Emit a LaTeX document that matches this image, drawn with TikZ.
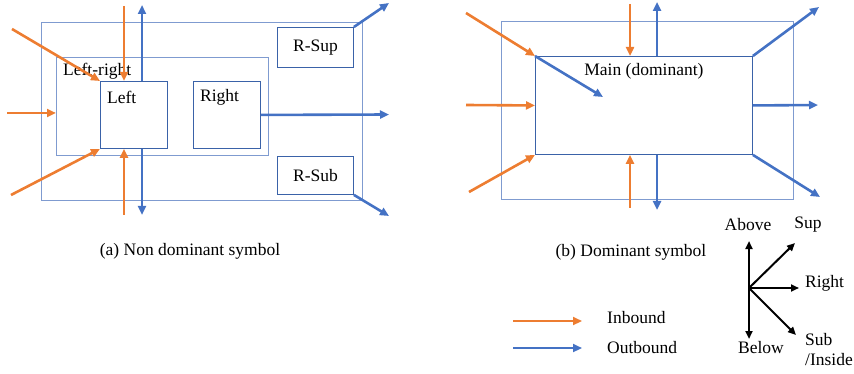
\documentclass[tikz,border=0pt]{standalone}
\usepackage{fontspec}
\setmainfont{Liberation Serif}
\usetikzlibrary{arrows.meta,positioning}
\definecolor{inorange}{HTML}{ED7D31}
\definecolor{outblue}{HTML}{4472C4}
\definecolor{framecol}{HTML}{7F9BD0}
\definecolor{boxcol}{HTML}{3A62A8}
\tikzset{
  frame/.style={draw=framecol,line width=.9pt,inner sep=0pt,anchor=north west},
  sbox/.style={draw=boxcol,line width=.9pt,inner sep=0pt,anchor=north west},
  inarrow/.style={inorange,line width=2.6pt,-{Triangle[length=9pt,width=8pt]}},
  outarrow/.style={outblue,line width=2.6pt,-{Triangle[length=9pt,width=8pt]}},
  dirarrow/.style={black,line width=2pt,-{Triangle[length=8pt,width=7pt]}},
  txt/.style={inner sep=0pt,font=\fontsize{17.5pt}{20pt}\selectfont}
}
\begin{document}
\begin{tikzpicture}[x=1pt,y=-1pt]
\useasboundingbox (0,0) rectangle (854,374);
% (a) non dominant
\node[frame,minimum width=321pt,minimum height=178pt] (outerA) at (41,22) {};
\node[frame,minimum width=212pt,minimum height=98pt] (lr) at (56,57) {};
\node[sbox,minimum width=67pt,minimum height=67pt] (left) at (100,81) {};
\node[sbox,minimum width=67pt,minimum height=67pt] (right) at (193,81) {};
\node[sbox,minimum width=76pt,minimum height=40pt] (rsup) at (277,27) {};
\node[sbox,minimum width=76pt,minimum height=38pt] (rsub) at (277,156) {};
\node[txt,anchor=west] (lrtext) at ([xshift=7pt,yshift=-14pt]lr.north west) {Left-right};
\node[txt,anchor=west] (lefttext) at ([xshift=7pt,yshift=-16pt]left.north west) {Left};
\node[txt,anchor=west] (righttext) at ([xshift=7pt,yshift=-16pt]right.north west) {Right};
\node[txt] (rsuptext) at (rsup) {R-Sup};
\node[txt] (rsubtext) at (rsub) {R-Sub};
\coordinate (aNW) at (12,29);
\coordinate (aTop) at (124,6);
\coordinate (aW) at (7,113);
\coordinate (aSW) at (11,195);
\coordinate (aBot) at (124,215);
\coordinate (aUp) at (142,5);
\coordinate (aDown) at (142,215);
\coordinate (aRight) at (389,114.5);
\coordinate (aSup) at (389,3);
\coordinate (aSub) at (389,216);
\draw[inarrow] (aNW) -- (left.north west);
\draw[inarrow] (aTop) -- (aTop |- left.north);
\draw[inarrow] (aW) -- (aW -| lr.west);
\draw[inarrow] (aSW) -- (left.south west);
\draw[inarrow] (aBot) -- (aBot |- left.south);
\draw[outarrow] (aUp |- left.north) -- (aUp);
\draw[outarrow] (aDown |- left.south) -- (aDown);
\draw[outarrow] (right.east) -- (aRight);
\draw[outarrow] (rsup.north east) -- (aSup);
\draw[outarrow] (rsub.south east) -- (aSub);
\node[txt] (capA) at (190,251) {(a) Non dominant symbol};
% (b) dominant
\node[frame,minimum width=292pt,minimum height=178pt] (outerB) at (501,21) {};
\node[sbox,minimum width=217pt,minimum height=98pt] (main) at (535,56) {};
\node[txt,below=7pt of main.north] (maintext) {Main (dominant)};
\coordinate (bNW) at (466,13);
\coordinate (bTop) at (630,4);
\coordinate (bW) at (466,105);
\coordinate (bSW) at (469,192);
\coordinate (bBot) at (630,208);
\coordinate (bUp) at (657,2);
\coordinate (bDown) at (657,210);
\coordinate (bIn) at (603,97);
\coordinate (bSup) at (819,7);
\coordinate (bRight) at (818,105);
\coordinate (bSub) at (820,197);
\draw[inarrow] (bNW) -- (main.north west);
\draw[inarrow] (bTop) -- (bTop |- main.north);
\draw[inarrow] (bW) -- (main.west);
\draw[inarrow] (bSW) -- (main.south west);
\draw[inarrow] (bBot) -- (bBot |- main.south);
\draw[outarrow] (bUp |- main.north) -- (bUp);
\draw[outarrow] (bDown |- main.south) -- (bDown);
\draw[outarrow] (main.north west) -- (bIn);
\draw[outarrow] (main.north east) -- (bSup);
\draw[outarrow] (main.east) -- (bRight);
\draw[outarrow] (main.south east) -- (bSub);
\node[txt] (capB) at (631,252) {(b) Dominant symbol};
% legend
\coordinate (inS) at (513,321);
\coordinate (inE) at (582,321);
\coordinate (outS) at (513,348);
\coordinate (outE) at (582,348);
\draw[inarrow] (inS) -- (inE);
\draw[outarrow] (outS) -- (outE);
\node[txt,anchor=west] (inbound) at (607,318) {Inbound};
\node[txt,anchor=west] (outbound) at (607,348) {Outbound};
\coordinate (o) at (749,288);
\coordinate (cUp) at (749,241);
\coordinate (cDown) at (749,339);
\coordinate (cSup) at (795,243);
\coordinate (cRight) at (799,288);
\coordinate (cSub) at (796,335);
\draw[dirarrow,{Triangle[length=8pt,width=7pt]}-{Triangle[length=8pt,width=7pt]}] (cDown) -- (cUp);
\draw[dirarrow] (o) -- (cSup);
\draw[dirarrow] (o) -- (cRight);
\draw[dirarrow] (o) -- (cSub);
\node[txt] (above) at (748,225) {Above};
\node[txt] (sup) at (808,225) {Sup};
\node[txt,anchor=west] (righttxt) at (805,283) {Right};
\node[txt] (below) at (761,348) {Below};
\node[txt,anchor=north west,align=left] (sub) at (805,333) {Sub\\/Inside};
\end{tikzpicture}
\end{document}
